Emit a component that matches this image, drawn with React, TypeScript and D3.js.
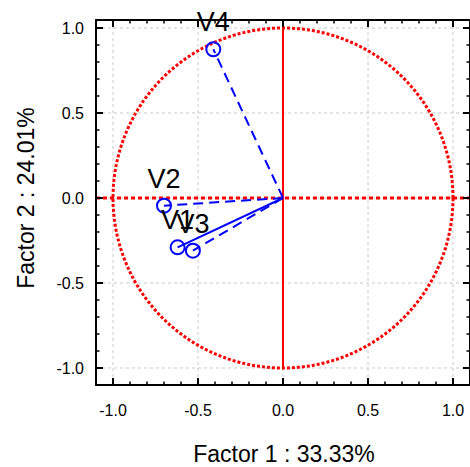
import React from "react";
import * as d3 from "d3";

const variables = ["V4", "V2", "V1", "V3"];
const factor1 = [-0.41, -0.70, -0.62, -0.53];
const factor2 = [0.875, -0.045, -0.29, -0.31];
const dashed = [true, true, false, true];
const majorTicks = [-1.0, -0.5, 0.0, 0.5, 1.0];
const xTitle = "Factor 1 : 33.33%";
const yTitle = "Factor 2 : 24.01%";

export default function App() {
  const W = 470, H = 467;
  const x = d3.scaleLinear().domain([-1.1, 1.1]).range([96, 470]);
  const y = d3.scaleLinear().domain([-1.1, 1.047]).range([385, 20]);
  const minor = d3.range(-11, 12).map((d) => d / 10);
  const font = "Liberation Sans, Arial, sans-serif";
  const circlePts = d3.range(0, 361, 1).map((a) => [Math.cos((a * Math.PI) / 180), Math.sin((a * Math.PI) / 180)]);
  const circlePath = d3.line<number[]>().x((d) => x(d[0])).y((d) => y(d[1]))(circlePts) as string;
  const [x0, x1] = x.range();
  const [y0, y1] = y.range();
  return (
    <svg width={W} height={H} style={{ position: "absolute", left: 0, top: 0 }} fontFamily={font}>
      <rect x={0} y={0} width={W} height={H} fill="#fff" />
      {majorTicks.map((t) => (
        <g key={"g" + t}>
          <line x1={x(t)} x2={x(t)} y1={y1} y2={y0} stroke="#c8c8c8" strokeDasharray="3,3" strokeWidth={1} />
          <line x1={x0} x2={x1} y1={y(t)} y2={y(t)} stroke="#c8c8c8" strokeDasharray="3,3" strokeWidth={1} />
        </g>
      ))}
      <path d={circlePath} fill="none" stroke="#ff0000" strokeWidth={3} strokeDasharray="3,2" />
      <line x1={x0} x2={x1} y1={y(0)} y2={y(0)} stroke="#ff0000" strokeWidth={3} strokeDasharray="4,3" />
      <line x1={x(0)} x2={x(0)} y1={y(1)} y2={y(-1)} stroke="#ff0000" strokeWidth={2} />
      {variables.map((v, i) => (
        <g key={v}>
          <line x1={x(0)} y1={y(0)} x2={x(factor1[i])} y2={y(factor2[i])} stroke="#0000ff" strokeWidth={2}
            strokeDasharray={dashed[i] ? "10,6" : undefined} />
          <circle cx={x(factor1[i])} cy={y(factor2[i])} r={7} fill="none" stroke="#0000ff" strokeWidth={2} />
          <text x={x(factor1[i])} y={y(factor2[i]) - 18} fontSize={27} textAnchor="middle" fill="#000">{v}</text>
        </g>
      ))}
      {minor.map((t) => {
        const major = Math.abs(Math.round(t * 10) % 5) === 0;
        const L = major ? 7 : 3.5;
        return (
          <g key={"t" + t} stroke="#000" strokeWidth={major ? 2 : 1.5}>
            <line x1={x(t)} x2={x(t)} y1={y0} y2={y0 - L} />
            <line x1={x(t)} x2={x(t)} y1={y1} y2={y1 + L} />
            {t <= 1.05 && (
              <>
                <line x1={x0} x2={x0 + L} y1={y(t)} y2={y(t)} />
                <line x1={x1} x2={x1 - L} y1={y(t)} y2={y(t)} />
              </>
            )}
          </g>
        );
      })}
      <rect x={x0} y={y1} width={x1 - x0} height={y0 - y1} fill="none" stroke="#000" strokeWidth={2} />
      {majorTicks.map((t) => (
        <g key={"l" + t}>
          <text x={x(t)} y={416} fontSize={16} textAnchor="middle" fill="#000">{t.toFixed(1)}</text>
          <text x={84} y={y(t) + 6} fontSize={16} textAnchor="end" fill="#000">{t.toFixed(1)}</text>
        </g>
      ))}
      <text x={284} y={462} fontSize={20} textAnchor="middle" fill="#000" style={{ fontSize: 23 }}>{xTitle}</text>
      <text transform={`translate(34,${y(0)}) rotate(-90)`} textAnchor="middle" fill="#000" style={{ fontSize: 23 }}>{yTitle}</text>
    </svg>
  );
}
